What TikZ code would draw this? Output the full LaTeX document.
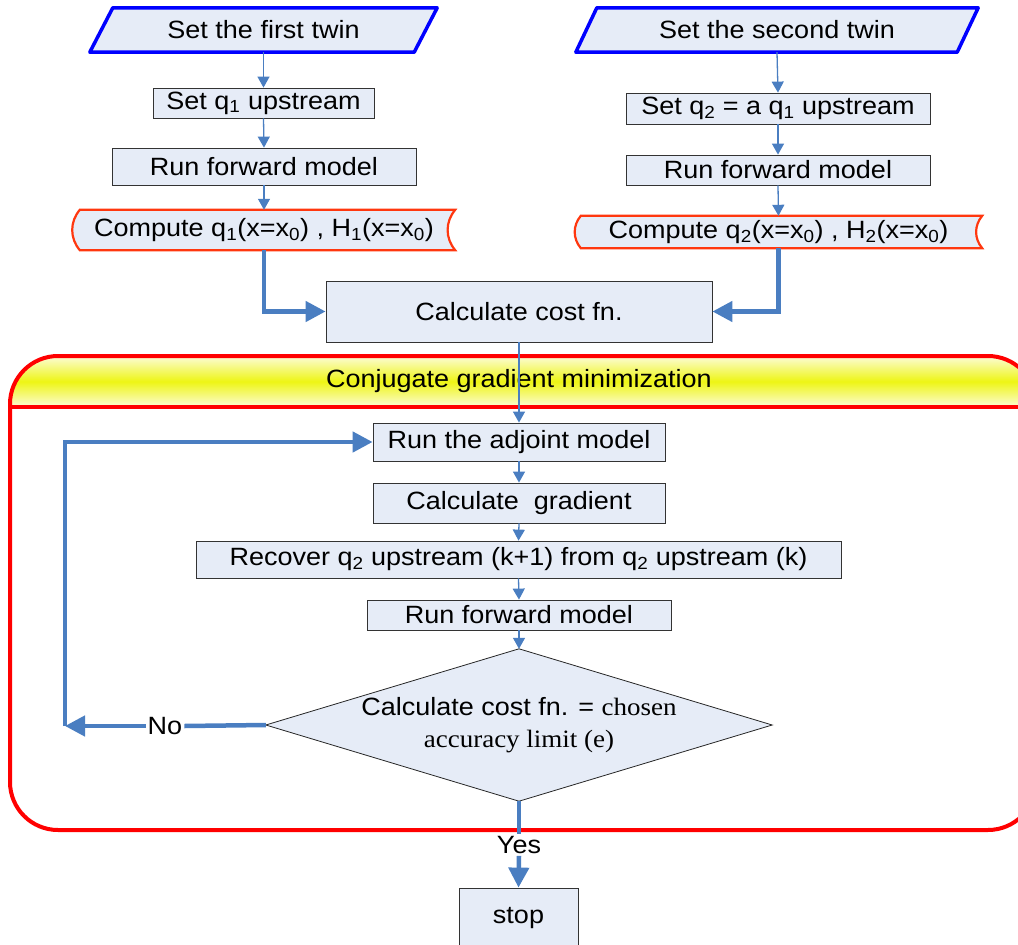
\documentclass[tikz,border=0pt]{standalone}
\usepackage{fontspec}
\setmainfont{Liberation Sans}[FakeStretch=1.08]
\newfontfamily\tnr{Liberation Serif}[FakeStretch=1.08]
\usetikzlibrary{arrows.meta,calc}
\pgfdeclarelayer{bg}
\pgfsetlayers{bg,main}
\definecolor{cblue}{RGB}{74,126,193}
\definecolor{bfill}{RGB}{230,236,247}
\definecolor{tapered}{RGB}{255,55,15}
\definecolor{hyellow}{RGB}{238,245,20}
\definecolor{hpale}{RGB}{252,252,215}
\begin{document}
\begin{tikzpicture}[x=1pt,y=-1pt,
  font=\fontsize{25}{32}\selectfont,
  box/.style={draw=black!80,line width=0.8pt,fill=bfill,inner sep=0pt},
  shapeonly/.style={inner sep=0pt},
  thinarrow/.style={draw=cblue,line width=1.3pt,-{Triangle[length=11pt,width=12pt]}},
  thickline/.style={draw=cblue,line width=4.5pt},
  thickarrow/.style={thickline,-{Triangle[length=20pt,width=20pt]}},
  para/.style={draw=blue,line width=3.5pt,fill=bfill,line join=round},
  tapeshape/.style={draw=tapered,line width=2.2pt,fill=bfill},
  dshape/.style={draw=black!85,line width=0.8pt,fill=bfill},
  frame/.style={draw=red,line width=4pt,rounded corners=48pt},
  lbl/.style={inner sep=2pt}]
\useasboundingbox (0,0) rectangle (1018,945);
\clip (0,0) rectangle (1018,945);

% container with header
\shade[top color=hpale, bottom color=hpale, middle color=hyellow, rounded corners=48pt]
  (10,407) |- (1036,356) -- (1036,407);
\draw[frame] (10,356) rectangle (1036,830);
\draw[draw=red,line width=4pt] (10,407) -- (1036,407);

% nodes
\node[shapeonly,minimum width=324pt,minimum height=44pt] (p1) at (263.5,30) {Set the first twin};
\node[box,minimum width=221pt,minimum height=30pt] (s1) at (263.5,103) {Set q\textsubscript{1} upstream};
\node[box,minimum width=304pt,minimum height=37pt] (f1) at (264,166.5) {Run forward model};
\node[shapeonly,minimum width=382pt,minimum height=40pt] (c1) at (264,230) {Compute q\textsubscript{1}(x=x\textsubscript{0}) , H\textsubscript{1}(x=x\textsubscript{0})};

\node[shapeonly,minimum width=381pt,minimum height=44pt] (p2) at (777,30) {Set the second twin};
\node[box,minimum width=304pt,minimum height=31pt] (s2) at (778,108.5) {Set q\textsubscript{2} = a q\textsubscript{1} upstream};
\node[box,minimum width=304pt,minimum height=30pt] (f2) at (778,170) {Run forward model};
\node[shapeonly,minimum width=407pt,minimum height=32pt] (c2) at (778.5,232) {Compute q\textsubscript{2}(x=x\textsubscript{0}) , H\textsubscript{2}(x=x\textsubscript{0})};

\node[box,minimum width=386pt,minimum height=61pt] (cost) at (519,311.5) {Calculate cost fn.};
\node (hdr) at (519,381) {Conjugate gradient minimization};

\node[box,minimum width=292pt,minimum height=38pt] (adj) at (519,442) {Run the adjoint model};
\node[box,minimum width=292pt,minimum height=40pt] (grad) at (519,503) {Calculate\ \ gradient};
\node[box,minimum width=645pt,minimum height=37pt] (rec) at (518.5,559.5) {Recover q\textsubscript{2} upstream (k+1) from q\textsubscript{2} upstream (k)};
\node[box,minimum width=304pt,minimum height=30pt] (f3) at (519,615) {Run forward model};
\node[shapeonly,minimum width=506pt,minimum height=152pt,align=center] (dia) at (519,725)
  {Calculate cost fn. = {\tnr chosen}\\{\tnr accuracy limit (e)}};
\node[box,minimum width=119pt,minimum height=60pt] (stop) at (518.5,918) {stop};
\node[lbl] (yes) at (519,845) {Yes};
\node[lbl] (no) at (165,726) {No};
\coordinate (lp) at (65,726);

% shapes behind text
\begin{pgfonlayer}{bg}
\draw[para] ($(p1.south west)+(-11.5,0)$) -- ($(p1.south east)+(-11.5,0)$)
  -- ($(p1.north east)+(11.5,0)$) -- ($(p1.north west)+(11.5,0)$) -- cycle;
\draw[para] ($(p2.south west)+(-10.5,0)$) -- ($(p2.south east)+(-10.5,0)$)
  -- ($(p2.north east)+(10.5,0)$) -- ($(p2.north west)+(10.5,0)$) -- cycle;
\draw[tapeshape] ($(c1.north west)+(7,0)$) -- (c1.north east) to[bend right=40] (c1.south east)
  -- ($(c1.south west)+(7,0)$) to[bend left=40] ($(c1.north west)+(7,0)$) -- cycle;
\draw[tapeshape] ($(c2.north west)+(6,0)$) -- (c2.north east) to[bend right=40] (c2.south east)
  -- ($(c2.south west)+(6,0)$) to[bend left=40] ($(c2.north west)+(6,0)$) -- cycle;
\draw[dshape] (dia.north) -- (dia.east) -- (dia.south) -- (dia.west) -- cycle;
\end{pgfonlayer}

% connectors
\draw[thinarrow] (p1.south) -- (s1.north);
\draw[thinarrow] (s1.south) -- (f1.north);
\draw[thinarrow] (f1.south) -- (c1.north);
\draw[thinarrow] (p2.south) -- (s2.north);
\draw[thinarrow] (s2.south) -- (f2.north);
\draw[thinarrow] (f2.south) -- (c2.north);
\draw[thickarrow] (c1.south) |- (cost.west);
\draw[thickarrow] (c2.south) |- (cost.east);
\draw[thinarrow] (cost.south) -- (adj.north);
\draw[thinarrow] (adj.south) -- (grad.north);
\draw[thinarrow] (grad.south) -- (rec.north);
\draw[thinarrow] (rec.south) -- (f3.north);
\draw[thinarrow] (f3.south) -- (dia.north);
\draw[thickline] (dia.west) -- (no.east);
\draw[thickarrow] (no.west) -- (lp);
\draw[thickarrow] (lp) |- (adj.west);
\draw[thickline] (dia.south) -- (yes.north);
\draw[thickarrow] (yes.south) -- (stop.north);
\end{tikzpicture}
\end{document}
